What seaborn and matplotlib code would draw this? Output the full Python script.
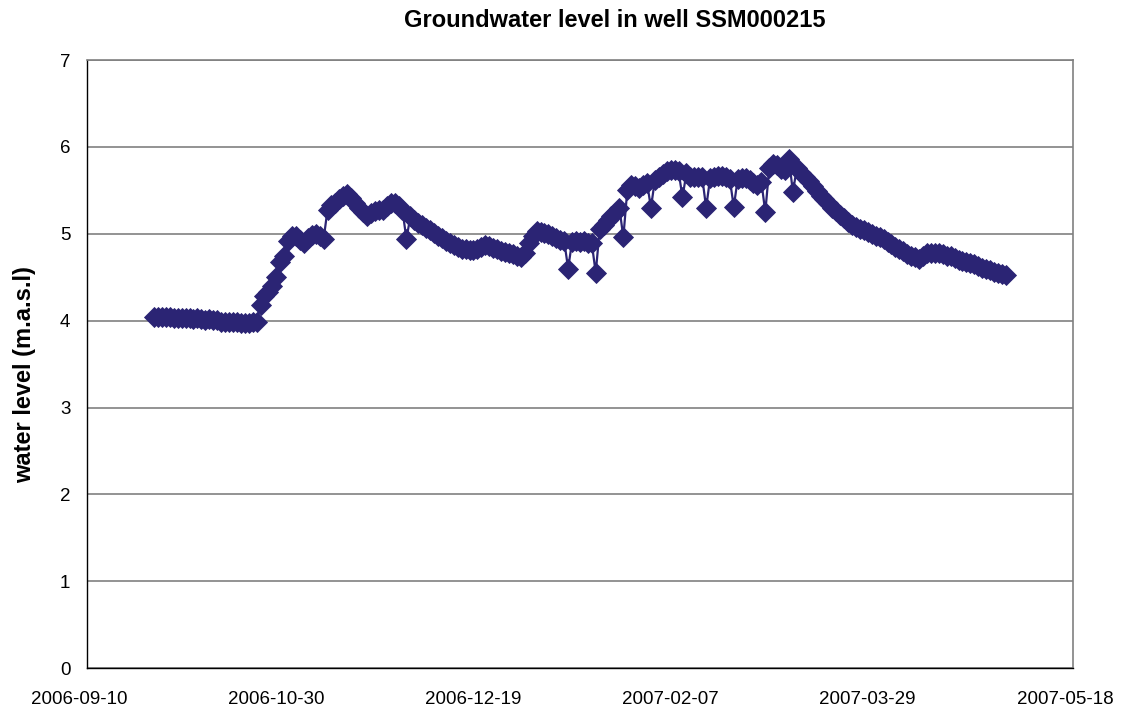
import matplotlib.pyplot as plt
import matplotlib.dates as mdates
import matplotlib.transforms as mtransforms
import numpy as np
import pandas as pd
import seaborn as sns

# daily readings, starting 2006-09-27 (m.a.s.l)
start_date = "2006-09-27"
water_level = [
    4.04, 4.04, 4.04, 4.04, 4.04, 4.03, 4.03, 4.03, 4.03, 4.03,
    4.02, 4.03, 4.02, 4.01, 4.02, 4.01, 4.01, 3.99, 3.98, 3.98,
    3.99, 3.98, 3.97, 3.97, 3.97, 3.98, 3.99, 4.18, 4.28, 4.33,
    4.40, 4.50, 4.68, 4.74, 4.92, 4.97, 4.98, 4.93, 4.89, 4.95,
    4.99, 5.00, 4.98, 4.94, 5.28, 5.33, 5.36, 5.40, 5.44, 5.46,
    5.41, 5.35, 5.30, 5.25, 5.21, 5.24, 5.26, 5.27, 5.28, 5.32,
    5.35, 5.36, 5.32, 5.27, 4.94, 5.20, 5.16, 5.13, 5.10, 5.07,
    5.04, 5.01, 4.98, 4.95, 4.92, 4.90, 4.87, 4.85, 4.83, 4.82,
    4.81, 4.81, 4.82, 4.85, 4.87, 4.86, 4.84, 4.82, 4.80, 4.79,
    4.78, 4.77, 4.75, 4.73, 4.78, 4.90, 4.98, 5.03, 5.02, 5.01,
    5.00, 4.97, 4.95, 4.93, 4.92, 4.60, 4.91, 4.92, 4.91, 4.92,
    4.90, 4.89, 4.55, 5.05, 5.10, 5.16, 5.20, 5.24, 5.30, 4.96,
    5.50, 5.56, 5.55, 5.53, 5.56, 5.59, 5.30, 5.62, 5.66, 5.69,
    5.72, 5.73, 5.73, 5.72, 5.42, 5.70, 5.66, 5.65, 5.65, 5.65,
    5.30, 5.64, 5.65, 5.67, 5.67, 5.65, 5.63, 5.31, 5.63, 5.64,
    5.64, 5.62, 5.58, 5.56, 5.60, 5.25, 5.76, 5.80, 5.79, 5.75,
    5.73, 5.86, 5.48, 5.76, 5.70, 5.66, 5.61, 5.55, 5.49, 5.44,
    5.40, 5.36, 5.30, 5.26, 5.22, 5.18, 5.14, 5.10, 5.08, 5.06,
    5.04, 5.02, 5.00, 4.98, 4.96, 4.94, 4.91, 4.88, 4.85, 4.82,
    4.80, 4.77, 4.75, 4.73, 4.71, 4.74, 4.78, 4.78, 4.78, 4.78,
    4.77, 4.75, 4.74, 4.72, 4.70, 4.69, 4.68, 4.66, 4.65, 4.63,
    4.61, 4.59, 4.58, 4.56, 4.55, 4.54, 4.53,
]

x_start, x_end = "2006-09-10", "2007-05-18"
tick_step_days = 50
y_ticks = [0, 1, 2, 3, 4, 5, 6, 7]

df = pd.DataFrame({
    "date": pd.date_range(start_date, periods=len(water_level), freq="D"),
    "level": water_level,
})

sns.set_style("white")
plt.rcParams["font.family"] = ["Liberation Sans", "DejaVu Sans"]
plt.rcParams["text.color"] = "black"
plt.rcParams["axes.labelcolor"] = "black"

fig = plt.figure(figsize=(11.21, 7.16), dpi=100)
ax = fig.add_axes([0.0776, 0.067, 0.8795, 0.849])

color = "#2B2474"
sns.lineplot(data=df, x="date", y="level", ax=ax, color=color, linewidth=1.6,
             marker="D", markersize=10, markeredgecolor=color,
             markeredgewidth=0.6, markerfacecolor=color)

ax.set_xlim(pd.Timestamp(x_start), pd.Timestamp(x_end))
ax.set_ylim(0, 7)
ticks = pd.date_range(x_start, x_end, freq=f"{tick_step_days}D")
ax.set_xticks(ticks)
ax.xaxis.set_major_formatter(mdates.DateFormatter("%Y-%m-%d"))
ax.set_yticks(y_ticks)

ax.yaxis.grid(True, color="#808080", linewidth=1.2)
ax.xaxis.grid(False)
ax.set_axisbelow(True)

for side in ["left", "bottom"]:
    ax.spines[side].set_color("black")
    ax.spines[side].set_linewidth(1.0)
for side in ["top", "right"]:
    ax.spines[side].set_color("#808080")
    ax.spines[side].set_linewidth(1.2)

ax.tick_params(axis="x", direction="out", length=4.5, width=1, pad=12,
               labelsize=13.5, colors="black")
ax.tick_params(axis="y", direction="out", length=4, width=1, pad=8,
               labelsize=13.5, colors="black")

# date labels sit a little left of their ticks, as in the original
shift = mtransforms.ScaledTranslation(-0.08, 0, fig.dpi_scale_trans)
for lbl in ax.get_xticklabels():
    lbl.set_transform(lbl.get_transform() + shift)

ax.set_xlabel("")
ax.set_ylabel("water level (m.a.s.l)", fontsize=17, fontweight="bold")
ax.yaxis.set_label_coords(-0.052, 0.482)
title = ax.set_title("Groundwater level in well SSM000215", fontsize=17,
                     fontweight="bold", pad=24)
title.set_x(0.535)

fig.savefig("out.png", dpi=100)
